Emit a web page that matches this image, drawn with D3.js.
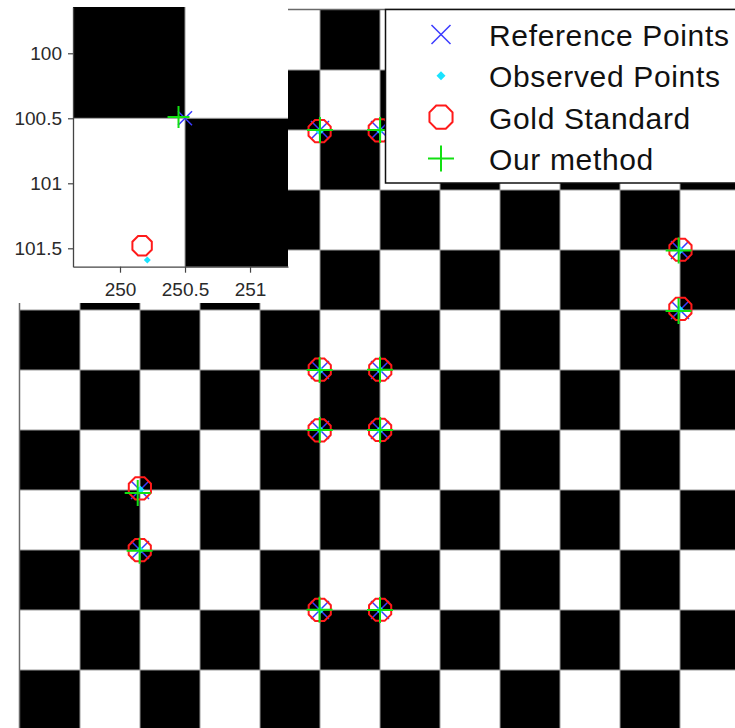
<!DOCTYPE html>
<html>
<head>
<meta charset="utf-8">
<script src="https://cdn.jsdelivr.net/npm/d3@7"></script>
<style>
  html, body { margin: 0; padding: 0; background: #fff; overflow: hidden; }
  svg { display: block; }
  text { font-family: "Liberation Sans", Arial, Helvetica, sans-serif; }
</style>
</head>
<body>
<script>
// ---------------- data ----------------
const squareSize = 50;          // checkerboard square size (image pixels)
const nSquares = 12;            // squares per side

const refX = [250.5, 300.5, 550.5, 550.5, 250.5, 300.5, 250.5, 300.5, 100.5, 100.5, 250.5, 300.5];
const refY = [100.5, 100.5, 200.5, 250.5, 300.5, 300.5, 350.5, 350.5, 400.5, 450.5, 500.5, 500.5];

const obsX = [250.21, 300.4, 550.6, 550.5, 250.6, 300.4, 250.4, 300.3, 100.8, 100.6, 250.6, 300.4];
const obsY = [101.59, 100.9, 200.7, 250.2, 300.7, 300.6, 350.3, 350.7, 400.2, 450.4, 500.7, 500.6];

const goldX = [250.17, 300.3, 550.9, 550.8, 250.3, 300.7, 250.2, 300.6, 100.4, 100.3, 250.3, 300.6];
const goldY = [101.48, 100.8, 200.3, 249.6, 300.2, 300.3, 350.8, 350.4, 399.1, 450.6, 500.4, 500.3];

const ourX = [250.45, 300.6, 549.4, 549.3, 250.2, 300.5, 250.3, 300.6, 98.6, 100.2, 250.1, 300.5];
const ourY = [100.49, 100.4, 200.9, 251.3, 300.6, 300.3, 350.6, 350.5, 403.0, 451.2, 500.3, 500.4];

const legendLabels = ["Reference Points", "Observed Points", "Gold Standard", "Our method"];

const insetXTicks = [250, 250.5, 251];
const insetYTicks = [100, 100.5, 101, 101.5];

// ---------------- setup ----------------
const W = 735, H = 728;
const svg = d3.select("body").append("svg").attr("width", W).attr("height", H);
svg.append("rect").attr("width", W).attr("height", H).attr("fill", "#fff");

const COL = { ref: "#3a3aff", obs: "#19e3ff", gold: "#ff1a1a", our: "#12e012" };

const cells = d3.cross(d3.range(nSquares), d3.range(nSquares)).map(([i, j]) => ({
  x0: 0.5 + i * squareSize, x1: 0.5 + (i + 1) * squareSize,
  y0: 0.5 + j * squareSize, y1: 0.5 + (j + 1) * squareSize,
  black: (i + j) % 2 === 1
}));
const edges = d3.range(1, nSquares).map(k => 0.5 + k * squareSize);
const full = [0.5, 0.5 + nSquares * squareSize];

const pts = (xs, ys) => xs.map((x, i) => ({ x, y: ys[i] }));

// custom symbol shapes (size = half-extent squared)
const octagon = { draw(ctx, size) {
  const r = Math.sqrt(size);
  for (let k = 0; k < 8; k++) {
    const a = Math.PI / 8 + k * Math.PI / 4;
    const px = r * Math.cos(a), py = r * Math.sin(a);
    if (k === 0) ctx.moveTo(px, py); else ctx.lineTo(px, py);
  }
  ctx.closePath();
}};
const plusT = { draw(ctx, size) {
  const r = Math.sqrt(size);
  ctx.moveTo(-r, 0); ctx.lineTo(r, 0); ctx.moveTo(0, -r); ctx.lineTo(0, r);
}};
const timesT = { draw(ctx, size) {
  const r = Math.sqrt(size);
  ctx.moveTo(-r, -r); ctx.lineTo(r, r); ctx.moveTo(-r, r); ctx.lineTo(r, -r);
}};
const diamondT = { draw(ctx, size) {
  const r = Math.sqrt(size);
  ctx.moveTo(0, -r); ctx.lineTo(r, 0); ctx.lineTo(0, r); ctx.lineTo(-r, 0); ctx.closePath();
}};

function drawMarkers(g, xs, ys, sz) {
  const sets = [
    { data: pts(refX, refY), type: timesT, r: sz.x, fill: "none", stroke: COL.ref, sw: 1.5 },
    { data: pts(obsX, obsY), type: diamondT, r: sz.d, fill: COL.obs, stroke: "none", sw: 0 },
    { data: pts(goldX, goldY), type: octagon, r: sz.o, fill: "none", stroke: COL.gold, sw: 2 },
    { data: pts(ourX, ourY), type: plusT, r: sz.p, fill: "none", stroke: COL.our, sw: 2 }
  ];
  sets.forEach(s => {
    g.append("g").selectAll("path").data(s.data).join("path")
      .attr("transform", d => `translate(${xs(d.x)},${ys(d.y)})`)
      .attr("d", d3.symbol().type(s.type).size(s.r * s.r))
      .attr("fill", s.fill).attr("stroke", s.stroke).attr("stroke-width", s.sw);
  });
}

function drawBoard(g, xs, ys) {
  g.append("g").selectAll("rect").data(cells).join("rect")
    .attr("x", d => xs(d.x0)).attr("y", d => ys(d.y0))
    .attr("width", d => xs(d.x1) - xs(d.x0)).attr("height", d => ys(d.y1) - ys(d.y0))
    .attr("fill", d => d.black ? "#000" : "#fff");
  const gl = g.append("g").attr("stroke", "#9a9a9a").attr("stroke-width", 1);
  gl.selectAll("line.v").data(edges).join("line").attr("class", "v")
    .attr("x1", d => xs(d)).attr("x2", d => xs(d)).attr("y1", ys(full[0])).attr("y2", ys(full[1]));
  gl.selectAll("line.h").data(edges).join("line").attr("class", "h")
    .attr("y1", d => ys(d)).attr("y2", d => ys(d)).attr("x1", xs(full[0])).attr("x2", xs(full[1]));
}

// ---------------- main view ----------------
const xMain = d3.scaleLinear().domain(full).range([20, 740]);
const yMain = d3.scaleLinear().domain(full).range([10, 730]);
const gMain = svg.append("g");
drawBoard(gMain, xMain, yMain);
gMain.append("rect")
  .attr("x", xMain(full[0]) - 0.5).attr("y", yMain(full[0]) - 0.5)
  .attr("width", xMain(full[1]) - xMain(full[0])).attr("height", yMain(full[1]) - yMain(full[0]))
  .attr("fill", "none").attr("stroke", "#6a6a6a").attr("stroke-width", 1.5);
drawMarkers(gMain, xMain, yMain, { x: 9, d: 4, o: 12, p: 13 });

// ---------------- inset ----------------
svg.append("rect").attr("x", 0).attr("y", 0).attr("width", 288).attr("height", 303).attr("fill", "#fff");
const xIn = d3.scaleLinear().domain([249.6385, 251.292]).range([73, 288]);
const yIn = d3.scaleLinear().domain([99.644, 101.6415]).range([7, 266.7]);
svg.append("clipPath").attr("id", "insetClip").append("rect")
  .attr("x", 73).attr("y", 7).attr("width", 288 - 73).attr("height", 266.7 - 7);
const gIn = svg.append("g").attr("clip-path", "url(#insetClip)");
drawBoard(gIn, xIn, yIn);
drawMarkers(gIn, xIn, yIn, { x: 7, d: 3.5, o: 10.5, p: 11 });

const axY = svg.append("g").attr("transform", "translate(73,0)")
  .call(d3.axisLeft(yIn).tickValues(insetYTicks).tickFormat(d => String(d)).tickSize(5).tickSizeOuter(0).tickPadding(6));
const axX = svg.append("g").attr("transform", "translate(0,266.7)")
  .call(d3.axisBottom(xIn).tickValues(insetXTicks).tickFormat(d => String(d)).tickSize(6).tickSizeOuter(0).tickPadding(10));
[axX, axY].forEach(a => {
  a.select(".domain").attr("stroke", "#444").attr("stroke-width", 1.3);
  a.selectAll(".tick line").attr("stroke", "#444").attr("stroke-width", 1.2);
  a.selectAll(".tick text").attr("fill", "#2a2a2a").style("font-size", "19px")
    .style("font-family", "'Liberation Sans', Arial, sans-serif");
});

// ---------------- legend ----------------
const gLeg = svg.append("g");
gLeg.append("rect").attr("x", 385.5).attr("y", 9.5).attr("width", 400).attr("height", 173.5)
  .attr("fill", "#fff").attr("stroke", "#111").attr("stroke-width", 1.5);
const legTypes = [
  { type: timesT, r: 9.5, fill: "none", stroke: COL.ref, sw: 1.5 },
  { type: diamondT, r: 4.5, fill: COL.obs, stroke: "none", sw: 0 },
  { type: octagon, r: 12.5, fill: "none", stroke: COL.gold, sw: 2 },
  { type: plusT, r: 13, fill: "none", stroke: COL.our, sw: 2 }
];
const legY = d3.scalePoint().domain(legendLabels).range([34.5, 158.5]);
const items = gLeg.selectAll("g.item").data(legendLabels).join("g").attr("class", "item")
  .attr("transform", d => `translate(0,${legY(d)})`);
items.append("path")
  .attr("transform", "translate(441,0)")
  .attr("d", (d, i) => d3.symbol().type(legTypes[i].type).size(legTypes[i].r * legTypes[i].r)())
  .attr("fill", (d, i) => legTypes[i].fill).attr("stroke", (d, i) => legTypes[i].stroke)
  .attr("stroke-width", (d, i) => legTypes[i].sw);
items.append("text").attr("x", 489).attr("y", 11.5)
  .attr("fill", "#111").style("font-size", "30px").style("letter-spacing", "0.65px").text(d => d);
</script>
</body>
</html>
